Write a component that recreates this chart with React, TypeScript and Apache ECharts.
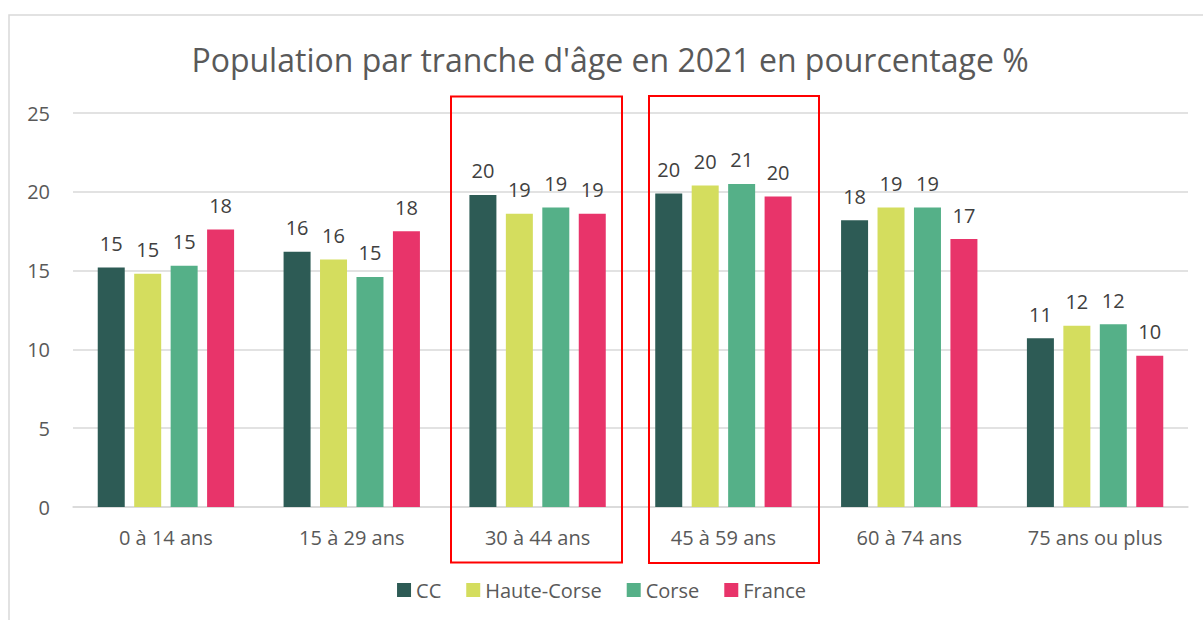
import React, { useEffect, useRef } from "react";
import * as echarts from "echarts";

const categories = ["0 à 14 ans", "15 à 29 ans", "30 à 44 ans", "45 à 59 ans", "60 à 74 ans", "75 ans ou plus"];
const seriesNames = ["CC", "Haute-Corse", "Corse", "France"];
const ccValues = [15.2, 16.2, 19.8, 19.9, 18.2, 10.7];
const hauteCorseValues = [14.8, 15.7, 18.6, 20.4, 19.0, 11.5];
const corseValues = [15.3, 14.6, 19.0, 20.5, 19.0, 11.6];
const franceValues = [17.6, 17.5, 18.6, 19.7, 17.0, 9.6];
const colors = ["#2d5b55", "#d4dd5e", "#55b088", "#e8346a"];
const titleText = "Population par tranche d'âge en 2021 en pourcentage %";

const FONT = "'Open Sans', 'Noto Sans', sans-serif";

export default function App() {
  const ref = useRef<HTMLDivElement>(null);
  useEffect(() => {
    if (!ref.current) return;
    const chart = echarts.init(ref.current, null, { renderer: "svg" });
    const values = [ccValues, hauteCorseValues, corseValues, franceValues];
    chart.setOption({
      animation: false,
      backgroundColor: "#ffffff",
      title: {
        text: titleText,
        left: 605,
        textAlign: "center",
        top: 38,
        textStyle: { fontFamily: FONT, fontSize: 32, fontWeight: "normal", color: "#595959" },
      },
      legend: {
        bottom: 15,
        left: "center",
        itemWidth: 14,
        itemHeight: 14,
        itemGap: 25,
        icon: "rect",
        textStyle: { fontFamily: FONT, fontSize: 20, color: "#595959", padding: [0, 0, 0, 0] },
        data: seriesNames,
      },
      grid: { left: 73, right: 15, top: 113, bottom: 113 },
      xAxis: {
        type: "category",
        data: categories,
        axisLine: { lineStyle: { color: "#d9d9d9", width: 1.5 } },
        axisTick: { show: false },
        axisLabel: { fontFamily: FONT, fontSize: 20, color: "#595959", margin: 20 },
      },
      yAxis: {
        type: "value",
        min: 0,
        max: 25,
        interval: 5,
        axisLine: { show: false },
        axisTick: { show: false },
        splitLine: { lineStyle: { color: "#d9d9d9", width: 1.5 } },
        axisLabel: { fontFamily: FONT, fontSize: 20, color: "#595959", margin: 23 },
      },
      graphic: [
        {
          type: "rect",
          shape: { x: 9, y: 15, width: 1210, height: 620 },
          style: { fill: "none", stroke: "#d9d9d9", lineWidth: 1.5 },
          silent: true,
        },
        {
          type: "rect",
          shape: { x: 451, y: 96.5, width: 171, height: 466 },
          style: { fill: "none", stroke: "#ff0000", lineWidth: 2 },
          silent: true,
          z: 100,
        },
        {
          type: "rect",
          shape: { x: 649, y: 96, width: 170, height: 467 },
          style: { fill: "none", stroke: "#ff0000", lineWidth: 2 },
          silent: true,
          z: 100,
        },
      ],
      series: seriesNames.map((name, i) => ({
        name,
        type: "bar",
        data: values[i],
        barWidth: 27,
        barGap: "35%",
        itemStyle: { color: colors[i] },
        label: {
          show: true,
          position: "top",
          distance: 14,
          fontFamily: FONT,
          fontSize: 20,
          color: "#404040",
          formatter: (p: any) => String(Math.round(p.value)),
        },
      })),
    });
    return () => chart.dispose();
  }, []);
  return <div ref={ref} style={{ position: "fixed", left: 0, top: 0, width: 1203, height: 620 }} />;
}
